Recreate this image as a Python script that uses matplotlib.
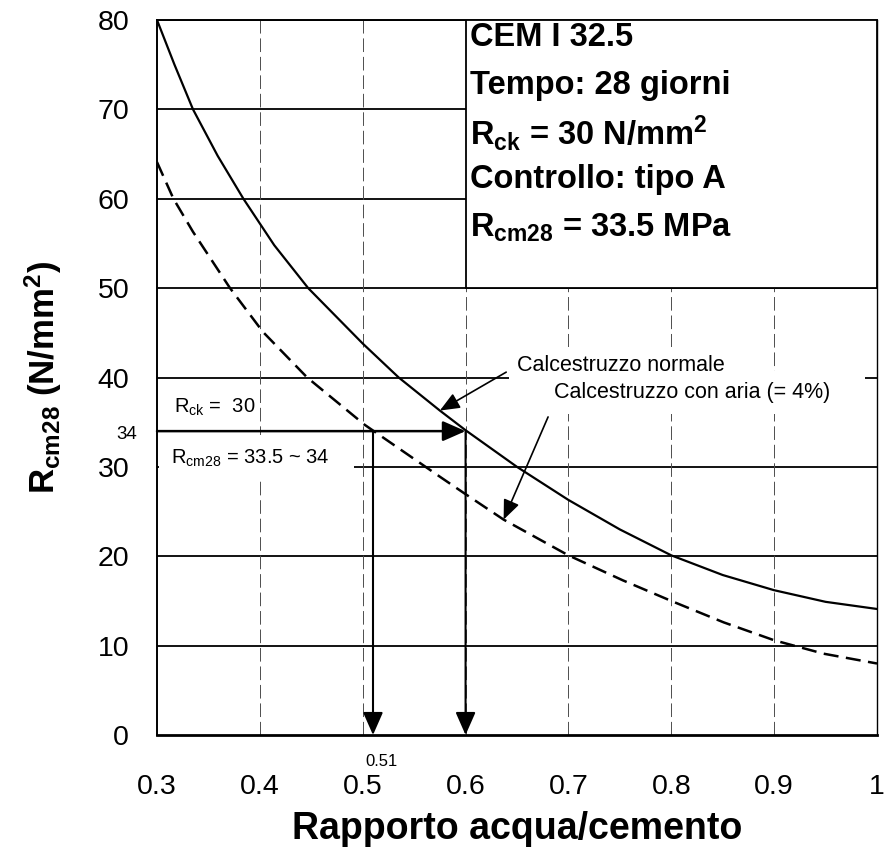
import numpy as np
import matplotlib
matplotlib.use('Agg')
import matplotlib.pyplot as plt
from matplotlib.patches import Rectangle

matplotlib.rcParams['font.family'] = 'Liberation Sans'
matplotlib.rcParams['mathtext.fontset'] = 'custom'
matplotlib.rcParams['mathtext.rm'] = 'Liberation Sans'
matplotlib.rcParams['mathtext.default'] = 'regular'

# rapporto acqua/cemento vs resistenza media a 28 giorni
aw_normale = [0.30, 0.317, 0.335, 0.359, 0.384, 0.414, 0.447, 0.50, 0.535, 0.575,
              0.60, 0.65, 0.70, 0.75, 0.80, 0.85, 0.90, 0.95, 1.00]
rcm_normale = [80, 75, 70, 64.8, 60, 54.8, 50, 43.8, 40, 36.3,
               34.1, 30, 26.3, 23.0, 20.1, 17.9, 16.2, 14.9, 14.1]

aw_aria = [0.30, 0.316, 0.335, 0.371, 0.403, 0.446, 0.502, 0.575, 0.598, 0.637,
           0.70, 0.753, 0.80, 0.851, 0.90, 0.948, 1.00]
rcm_aria = [64.1, 60, 56.3, 50, 45.1, 40, 34.7, 28.9, 27.1, 24.1,
            20.1, 17.3, 15.0, 12.6, 10.6, 9.1, 8.0]

rcm_target = 34
aw_target_normale = 0.60
aw_target_aria = 0.51

x_ticks = [0.3, 0.4, 0.5, 0.6, 0.7, 0.8, 0.9, 1.0]
x_tick_labels = ['0.3', '0.4', '0.5', '0.6', '0.7', '0.8', '0.9', '1']
y_ticks = [0, 10, 20, 30, 40, 50, 60, 70, 80]

box_lines = ['CEM I 32.5', 'Tempo: 28 giorni', r'R$_{ck}$ = 30 N/mm$^2$',
             'Controllo: tipo A', r'R$_{cm28}$ = 33.5 MPa']

fig = plt.figure(figsize=(8.9, 8.52), dpi=100)
ax = fig.add_axes([157/890, 1 - 735/852, (877-157)/890, (735-20)/852])

ax.set_xlim(0.3, 1.0)
ax.set_ylim(0, 80)

# grid
for y in y_ticks[1:]:
  ax.axhline(y, color='k', lw=1.3, zorder=1)
for x in x_ticks[1:-1]:
  ax.axvline(x, color='0.3', lw=0.7, ls=(0, (14, 5)), zorder=1)

# curves
ax.plot(aw_normale, rcm_normale, color='k', lw=1.6, zorder=2, solid_joinstyle='round')
ax.plot(aw_aria, rcm_aria, color='k', lw=1.8, ls=(0, (6, 3)), zorder=2)

# info box
ax.add_patch(Rectangle((0.6, 50), 0.4, 30, facecolor='white', edgecolor='k', lw=1.3, zorder=3))
for i, line in enumerate(box_lines):
  ax.text(0.604, 78.0 - i*5.3, line, fontsize=23.5, fontweight='bold', va='center', ha='left', zorder=4)

# reading arrows
head = '-|>,head_length=0.5,head_width=0.22'
ax.annotate('', xy=(aw_target_normale, rcm_target), xytext=(0.3, rcm_target),
            arrowprops=dict(arrowstyle=head, lw=1.8, color='k', mutation_scale=28, shrinkA=0, shrinkB=0), zorder=5)
ax.annotate('', xy=(aw_target_normale, 0), xytext=(aw_target_normale, rcm_target),
            arrowprops=dict(arrowstyle=head, lw=1.5, color='k', mutation_scale=28, shrinkA=0, shrinkB=0), zorder=5)
ax.annotate('', xy=(aw_target_aria, 0), xytext=(aw_target_aria, rcm_target),
            arrowprops=dict(arrowstyle=head, lw=1.5, color='k', mutation_scale=28, shrinkA=0, shrinkB=0), zorder=5)

ax.text(0.317, 36.7, r'R$_{ck}$ =  30', fontsize=14.5, va='center', ha='left', zorder=4)
ax.text(0.314, 31.0, r'R$_{cm28}$ = 33.5 ~ 34   ', fontsize=14.5, va='center', ha='left', zorder=4,
        bbox=dict(facecolor='white', edgecolor='none', pad=9))
ax.text(0.271, rcm_target - 0.4, '34', fontsize=13.5, va='center', ha='center', clip_on=False)
ax.text(aw_target_aria + 0.008, -3.0, '0.51', fontsize=12, va='center', ha='center', clip_on=False)

# curve labels
ax.annotate('Calcestruzzo normale', xy=(0.575, 36.3), xytext=(0.650, 41.3),
            fontsize=15.5, va='center', ha='left', zorder=4,
            bbox=dict(facecolor='white', edgecolor='none', pad=6),
            arrowprops=dict(arrowstyle='-|>,head_length=0.6,head_width=0.25', lw=1.2, color='k',
                            mutation_scale=20, shrinkA=2, shrinkB=0, relpos=(0, 0.5)))
ax.annotate('Calcestruzzo con aria (= 4%)    ', xy=(0.637, 24.1), xytext=(0.686, 38.3),
            fontsize=15.5, va='center', ha='left', zorder=4,
            bbox=dict(facecolor='white', edgecolor='none', pad=8),
            arrowprops=dict(arrowstyle='-|>,head_length=0.6,head_width=0.25', lw=1.2, color='k',
                            mutation_scale=20, shrinkA=2, shrinkB=0, relpos=(0, 0)))

ax.set_xticks(x_ticks)
ax.set_xticklabels(x_tick_labels)
ax.set_yticks(y_ticks)
ax.tick_params(axis='both', length=0, labelsize=20.5)
ax.tick_params(axis='x', pad=28)
ax.tick_params(axis='y', pad=20)

ax.set_xlabel('Rapporto acqua/cemento', fontsize=27, fontweight='bold', labelpad=8)
ax.set_ylabel(r'R$_{cm28}$ (N/mm$^2$)', fontsize=25, fontweight='bold', labelpad=24)

for side in ['left', 'top']:
  ax.spines[side].set_linewidth(1.4)
ax.spines['bottom'].set_linewidth(2)
ax.spines['right'].set_linewidth(1.0)

fig.savefig('out.png', dpi=100, facecolor='white')
